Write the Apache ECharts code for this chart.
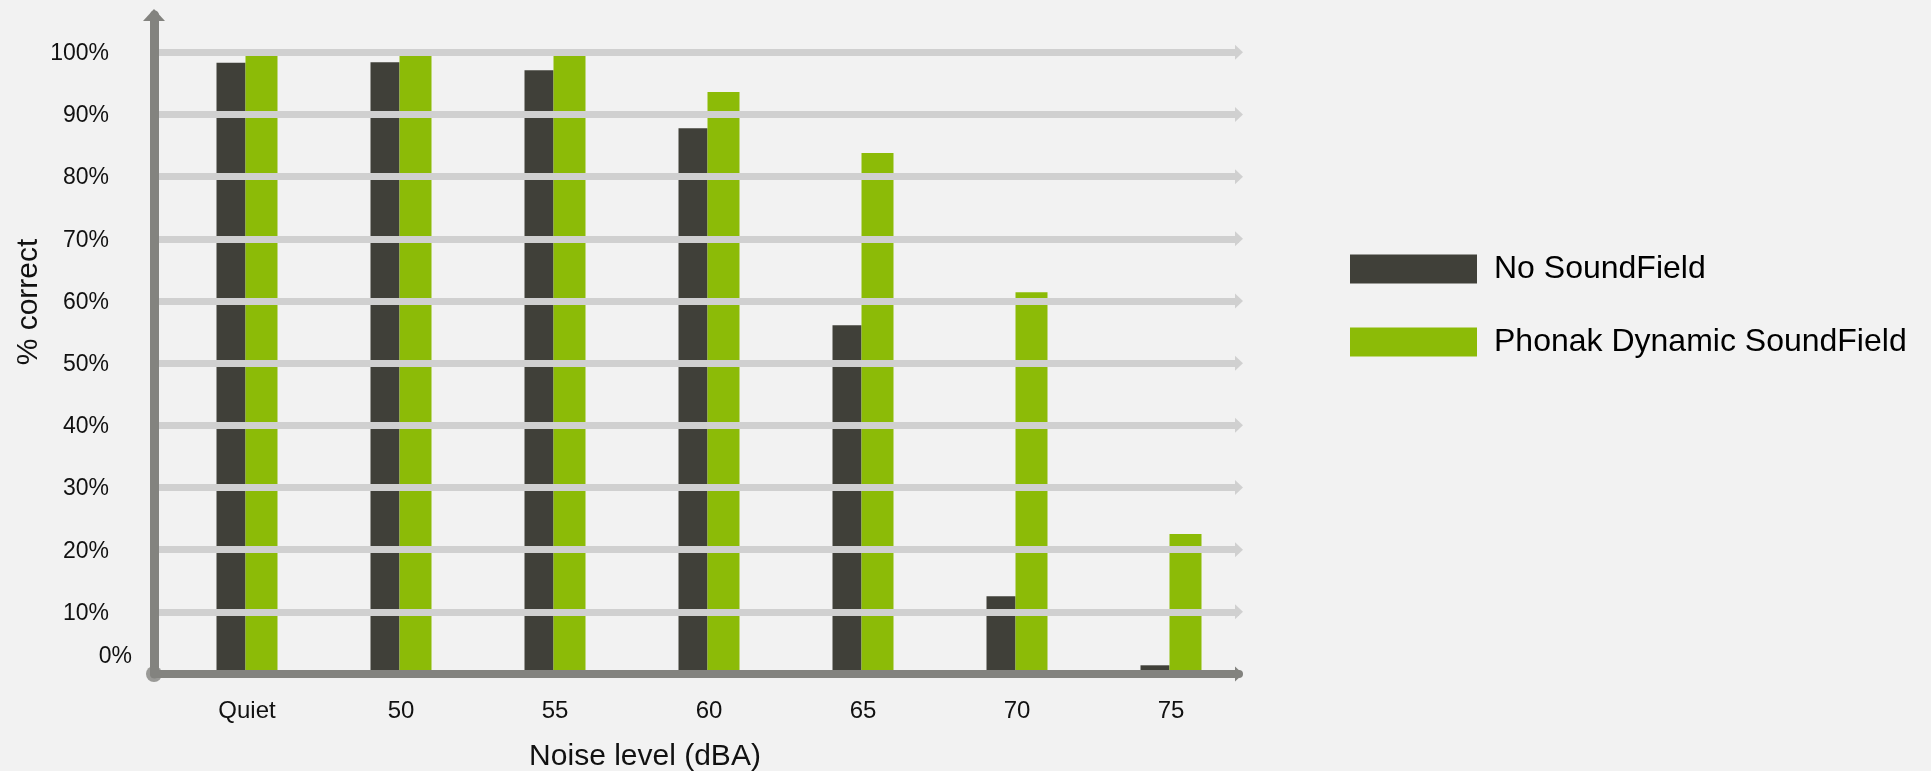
<!DOCTYPE html>
<html>
<head>
<meta charset="utf-8">
<title>% correct by noise level</title>
<script src="https://cdn.jsdelivr.net/npm/echarts@6/dist/echarts.min.js"></script>
<style>
  html, body { margin: 0; padding: 0; background: #f2f2f2; }
  #chart { width: 1931px; height: 771px; }
</style>
</head>
<body>
<div id="chart"></div>
<script>
// values (% correct)
const categories = ['Quiet', '50', '55', '60', '65', '70', '75']
const noSoundField = [98.3, 98.4, 97.1, 87.8, 56.1, 12.5, 1.4]
const dynamicSoundField = [99.6, 99.4, 99.4, 93.6, 83.8, 61.4, 22.5]
const gridTicks = [10, 20, 30, 40, 50, 60, 70, 80, 90, 100]
const seriesNames = ['No SoundField', 'Phonak Dynamic SoundField']

const AXIS_GRAY = '#83837f'
const GRID_GRAY = '#d0d0d0'
const DARK = '#404039'
const GREEN = '#8cbb07'
const FONT = '"Liberation Sans", Arial, sans-serif'

// axis top sits a bit above 100% so the arrow has room
const Y_MAX = 106
const gridBox = { top: 15, bottom: 97 }

const chart = echarts.init(document.getElementById('chart'), null, { renderer: 'canvas' })

function yLabel(v) {
  if (v % 10 !== 0) return ''
  // the 0% label sits up and to the right in the original
  if (v === 0) return '{z|0%}'
  return '{n|' + v + '%}'
}

const option = {
  backgroundColor: '#f2f2f2',
  animation: false,
  textStyle: { fontFamily: FONT },
  legend: {
    orient: 'vertical',
    left: 1345,
    top: 248,
    itemWidth: 127,
    itemHeight: 29,
    itemGap: 41,
    icon: 'rect',
    data: seriesNames,
    textStyle: {
      fontFamily: FONT,
      fontSize: 32,
      lineHeight: 32,
      color: '#000',
      padding: [0, 0, 0, 12],
    },
  },
  grid: [
    // axes + gridlines
    { left: 154, right: 692, top: gridBox.top, bottom: gridBox.bottom, outerBoundsMode: 'none' },
    // bars
    { left: 170, right: 683, top: gridBox.top, bottom: gridBox.bottom, outerBoundsMode: 'none' },
  ],
  xAxis: [
    {
      type: 'value', gridIndex: 0, min: 0, max: 1, z: 5,
      axisLine: {
        show: true,
        symbol: ['none', 'triangle'],
        symbolSize: [15, 8],
        lineStyle: { color: AXIS_GRAY, width: 8 },
      },
      axisTick: { show: false },
      axisLabel: { show: false },
      splitLine: { show: false },
      name: 'Noise level (dBA)',
      nameLocation: 'middle',
      nameGap: 68,
      nameMoveOverlap: false,
      nameTextStyle: { fontSize: 30, color: '#111', padding: [0, 103, 0, 0] },
    },
    {
      type: 'category', gridIndex: 1, data: categories,
      axisLine: { show: false },
      axisTick: { show: false },
      axisLabel: { fontSize: 24, color: '#111', margin: 25 },
    },
  ],
  yAxis: [
    {
      type: 'value', gridIndex: 0, min: 0, max: Y_MAX, interval: 10, z: 5,
      axisLine: {
        show: true,
        symbol: ['none', 'triangle'],
        symbolSize: [22, 12],
        lineStyle: { color: AXIS_GRAY, width: 9 },
      },
      axisTick: { show: false },
      splitLine: { show: false },
      axisLabel: {
        margin: 22,
        formatter: yLabel,
        rich: {
          n: { fontSize: 23, color: '#111', padding: [3, 23, 0, 0] },
          z: { fontSize: 23, color: '#111', padding: [0, 0, 34, 0] },
        },
      },
      name: '% correct',
      nameLocation: 'middle',
      nameRotate: 90,
      nameGap: 110,
      nameMoveOverlap: false,
      nameTextStyle: { fontSize: 30, color: '#111', padding: [0, 0, 0, 85] },
    },
    {
      type: 'value', gridIndex: 1, min: 0, max: Y_MAX, show: false,
    },
  ],
  series: [
    {
      // arrowed gridlines, kept under the bars
      type: 'line', xAxisIndex: 0, yAxisIndex: 0, z: 1,
      silent: true,
      data: [],
      markLine: {
        silent: true,
        symbol: ['none', 'triangle'],
        symbolSize: [15, 8],
        label: { show: false },
        lineStyle: { color: GRID_GRAY, width: 7, type: 'solid' },
        data: gridTicks.map((v) => ({ yAxis: v })),
      },
    },
    {
      // round cap where the two axes meet
      type: 'scatter', xAxisIndex: 0, yAxisIndex: 0, z: 6,
      silent: true,
      data: [[0, 0]],
      symbolSize: 16,
      itemStyle: { color: AXIS_GRAY },
    },
    {
      name: seriesNames[0], type: 'bar', xAxisIndex: 1, yAxisIndex: 1, z: 2,
      data: noSoundField, barWidth: 29, barGap: '0%',
      itemStyle: { color: DARK },
    },
    {
      name: seriesNames[1], type: 'bar', xAxisIndex: 1, yAxisIndex: 1, z: 2,
      data: dynamicSoundField, barWidth: 32, barGap: '0%',
      itemStyle: { color: GREEN },
    },
  ],
}

chart.setOption(option)
</script>
</body>
</html>
